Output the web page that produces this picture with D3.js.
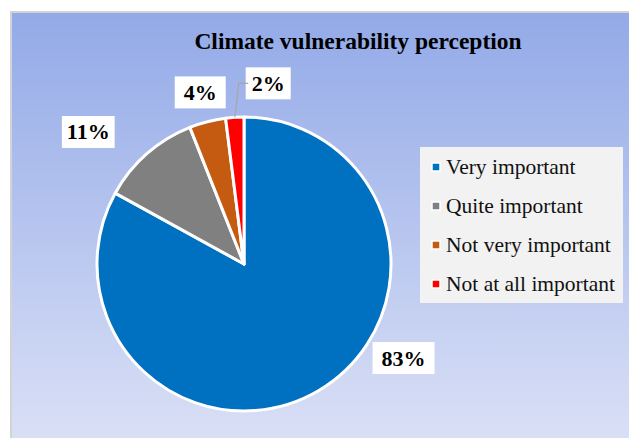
<!DOCTYPE html>
<html>
<head>
<meta charset="utf-8">
<title>Climate vulnerability perception</title>
<script src="https://cdn.jsdelivr.net/npm/d3@7"></script>
<style>
  body { margin: 0; background: #fff; }
  svg text { font-family: "Liberation Serif", "Times New Roman", serif; }
</style>
</head>
<body>
<div id="chart"></div>
<script>
// data
const categories = ["Very important", "Quite important", "Not very important", "Not at all important"];
const values = [83, 11, 4, 2];
const colors = ["#0070c0", "#808080", "#c55a11", "#ff0000"];

const width = 629, height = 438;
const cx = 244, cy = 264, radius = 147;

const svg = d3.select("#chart").append("svg")
  .attr("width", width)
  .attr("height", height);

const defs = svg.append("defs");
const grad = defs.append("linearGradient")
  .attr("id", "bg")
  .attr("x1", "0%").attr("x2", "0%")
  .attr("y1", "0%").attr("y2", "100%");
grad.append("stop").attr("offset", "0%").attr("stop-color", "#93aae8");
grad.append("stop").attr("offset", "100%").attr("stop-color", "#dde2f6");

// chart frame
svg.append("rect")
  .attr("x", 11).attr("y", 12)
  .attr("width", width + 10).attr("height", height + 10)
  .attr("fill", "url(#bg)")
  .attr("stroke", "#d3d3d3")
  .attr("stroke-width", 2);

svg.append("text")
  .attr("x", 358).attr("y", 49)
  .attr("text-anchor", "middle")
  .style("font-size", "23.5px")
  .style("font-weight", "bold")
  .text("Climate vulnerability perception");

const pie = d3.pie().sort(null).value(d => d)(values);
const arc = d3.arc().innerRadius(0).outerRadius(radius);
const labelArc = d3.arc().innerRadius(radius + 25).outerRadius(radius + 25);

const g = svg.append("g").attr("transform", `translate(${cx},${cy})`);

g.selectAll("path")
  .data(pie)
  .enter()
  .append("path")
    .attr("d", arc)
    .attr("fill", (d, i) => colors[i])
    .attr("stroke", "#fff")
    .attr("stroke-width", 3)
    .attr("stroke-linejoin", "round");

// excel style label nudges (outside end)
const nudge = [[72, -54], [-42, -3], [-1, -5], [35, -9]];
const pad = [18, 10, 18, 12];

const labels = g.selectAll("g.lab")
  .data(pie)
  .enter()
  .append("g")
    .attr("class", "lab")
    .attr("transform", (d, i) => {
      const c = labelArc.centroid(d);
      return `translate(${c[0] + nudge[i][0]},${c[1] + nudge[i][1]})`;
    });

// leader line for the smallest slice
{
  const d = pie[3];
  const a = (d.startAngle + d.endAngle) / 2;
  const p0 = [Math.sin(a) * radius, -Math.cos(a) * radius];
  const c = labelArc.centroid(d);
  const lx = c[0] + nudge[3][0], ly = c[1] + nudge[3][1];
  g.append("polyline")
    .attr("points", [p0, [p0[0] + 4, ly], [lx - 20, ly]].map(p => p.join(",")).join(" "))
    .attr("fill", "none")
    .attr("stroke", "#a6a6a6")
    .attr("stroke-width", 1.2);
}

labels.each(function(d, i) {
  const sel = d3.select(this);
  const t = sel.append("text")
    .attr("text-anchor", "middle")
    .attr("y", 7.5)
    .style("font-size", "22px")
    .style("font-weight", "bold")
    .text(values[i] + "%");
  const w = t.node().getComputedTextLength() + pad[i];
  sel.insert("rect", "text")
    .attr("x", -w / 2).attr("y", -16)
    .attr("width", w).attr("height", 32)
    .attr("fill", "#fff");
});

// legend
const legend = svg.append("g").attr("transform", "translate(420,147)");
legend.append("rect")
  .attr("width", 203).attr("height", 156)
  .attr("fill", "#f2f2f2");

const items = legend.selectAll("g.item")
  .data(categories)
  .enter()
  .append("g")
    .attr("class", "item")
    .attr("transform", (d, i) => `translate(0,${20 + i * 39})`);

items.append("rect")
  .attr("x", 12).attr("y", -4)
  .attr("width", 8).attr("height", 8)
  .attr("fill", (d, i) => colors[i])
  .attr("stroke", "#fff")
  .attr("stroke-width", 1.5);

items.append("text")
  .attr("x", 26).attr("y", 7)
  .style("font-size", "21.5px")
  .attr("fill", "#111")
  .text(d => d);
</script>
</body>
</html>
